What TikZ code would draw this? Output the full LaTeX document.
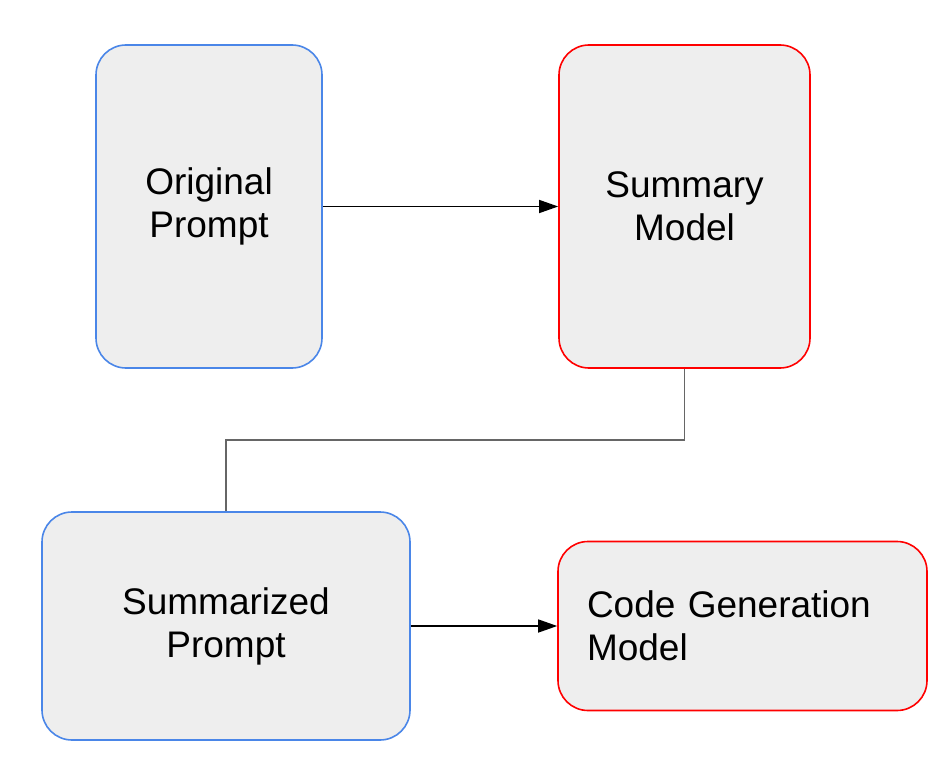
\documentclass[tikz,border=0pt]{standalone}
\usepackage{fontspec}
\setmainfont{Liberation Sans}
\usetikzlibrary{arrows.meta}
\definecolor{boxfill}{HTML}{EEEEEE}
\definecolor{bblue}{HTML}{4A86E8}
\definecolor{bred}{HTML}{FF0000}
\definecolor{conn}{HTML}{666666}
\begin{document}
\begin{tikzpicture}[x=1pt,y=-1pt,
  box/.style={draw, fill=boxfill, line width=1.6pt, rounded corners=30pt, inner sep=0pt,
    font=\fontsize{37}{43}\selectfont, align=center},
  bluebox/.style={box, draw=bblue},
  redbox/.style={box, draw=bred},
  arr/.style={line width=1.4pt, -{Triangle[length=19pt,width=13pt]}},
  link/.style={draw=conn, line width=1.4pt}]
\useasboundingbox (0,0) rectangle (945,765);
\node[bluebox, minimum width=226pt, minimum height=323pt] (op) at (209,206.5) {Original\\Prompt};
\node[redbox, minimum width=251pt, minimum height=323pt] (sm) at (684.5,206.5) {Summary\\Model};
\node[bluebox, minimum width=368pt, minimum height=228pt] (sp) at (226,626) {Summarized\\Prompt};
\node[redbox, minimum width=369pt, minimum height=169pt, text width=311pt, align=left] (cg) at (742.5,626) {Code Generation\\Model};
\coordinate (mid) at (0,440);
\draw[arr] (op.east) -- (sm.west);
\draw[link] (sm.south) -- (sm.south |- mid) -| (sp.north);
\draw[arr] (sp.east) -- (cg.west);
\end{tikzpicture}
\end{document}
